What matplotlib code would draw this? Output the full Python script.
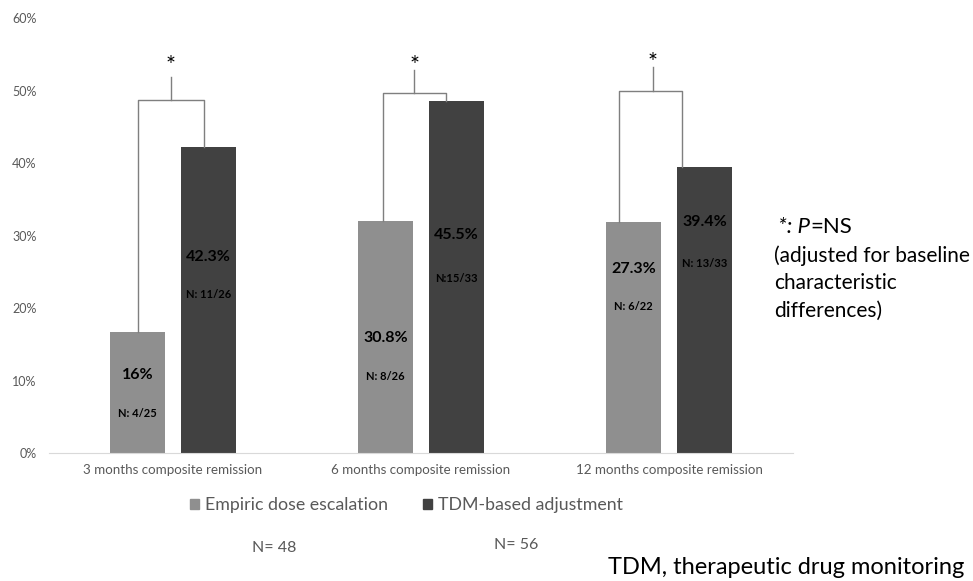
import numpy as np
import matplotlib.pyplot as plt
from matplotlib.patches import Patch

plt.rcParams['font.family'] = ['Lato', 'DejaVu Sans']

categories = ['3 months composite remission', '6 months composite remission',
              '12 months composite remission']
series_names = ['Empiric dose escalation', 'TDM-based adjustment']
# bar heights as drawn (%)
empiric = [16.7, 32.0, 31.8]
tdm = [42.2, 48.5, 39.4]
# printed labels
empiric_pct = ['16%', '30.8%', '27.3%']
tdm_pct = ['42.3%', '45.5%', '39.4%']
empiric_n = ['N: 4/25', 'N: 8/26', 'N: 6/22']
tdm_n = ['N: 11/26', 'N:15/33', 'N: 13/33']
group_n = ['N= 48', 'N= 56']

light = '#8f8f8f'
dark = '#414141'
grey_txt = '#595959'

fig = plt.figure(figsize=(9.73, 5.81), dpi=100)
ax = fig.add_axes([0.0504, 0.2203, 0.7646, 0.7487])

x = np.arange(len(categories))
w = 0.225
off = 0.143
ax.bar(x - off, empiric, w, color=light, label=series_names[0])
ax.bar(x + off, tdm, w, color=dark, label=series_names[1])

# label positions (y in %) for the text inside the bars
pct_y_e = [10.8, 15.9, 25.4]
n_y_e = [5.5, 10.6, 20.2]
pct_y_t = [27.0, 30.1, 31.9]
n_y_t = [21.8, 24.1, 26.2]
for i in range(len(categories)):
    ax.text(x[i] - off, pct_y_e[i], empiric_pct[i], ha='center', va='center',
            fontsize=11.5, fontweight='bold', color='black')
    ax.text(x[i] - off, n_y_e[i], empiric_n[i], ha='center', va='center',
            fontsize=8, fontweight='bold', color='black')
    ax.text(x[i] + off, pct_y_t[i], tdm_pct[i], ha='center', va='center',
            fontsize=11.5, fontweight='bold', color='black')
    ax.text(x[i] + off, n_y_t[i], tdm_n[i], ha='center', va='center',
            fontsize=8, fontweight='bold', color='black')

# hand drawn brackets: left leg x, right leg x, stem x, bar level, stem top, star y
brackets = [(-0.143, 0.125, -0.01, 48.7, 51.9, 53.4),
            (-0.154, 0.10, -0.028, 49.7, 52.8, 53.4),
            (-0.20, 0.053, -0.066, 50.0, 53.3, 53.9)]
for i, (xl, xr, xs, yb, ys, yst) in enumerate(brackets):
    c = x[i]
    ax.plot([c + xl, c + xl, c + xr, c + xr],
            [empiric[i], yb, yb, tdm[i]], color='#7f7f7f', lw=1)
    ax.plot([c + xs, c + xs], [yb, ys], color='#7f7f7f', lw=1)
    ax.text(c + xs, yst, '*', ha='center', va='center', fontsize=17, color='black')

ax.set_xlim(-0.5, 2.5)
ax.set_ylim(0, 60)
ax.set_yticks(np.arange(0, 61, 10))
ax.set_yticklabels([f'{v}%' for v in range(0, 61, 10)])
ax.set_xticks(x)
ax.set_xticklabels(categories)
ax.tick_params(axis='both', length=0, labelsize=9, labelcolor=grey_txt)
ax.tick_params(axis='x', labelsize=9.6, pad=8)
ax.tick_params(axis='y', pad=9)
for s in ['top', 'right', 'left']:
    ax.spines[s].set_visible(False)
ax.spines['bottom'].set_color('#d9d9d9')

handles = [Patch(color=light), Patch(color=dark)]
fig.legend(handles, series_names, loc='center', bbox_to_anchor=(0.418, 0.131),
           ncol=2, frameon=False, fontsize=12.8, labelcolor=grey_txt,
           handlelength=0.5, handleheight=0.5, handletextpad=0.34, columnspacing=2.0)

fig.text(0.2816, 0.0568, group_n[0], ha='center', va='center', fontsize=11.5, color=grey_txt)
fig.text(0.531, 0.062, group_n[1], ha='center', va='center', fontsize=11.5, color=grey_txt)

t = fig.text(0.80, 0.609, '*: P', ha='left', va='center', fontsize=16, style='italic')
ax.annotate('=NS', xy=(1, 0), xycoords=t, ha='left', va='bottom', fontsize=16)
fig.text(0.7955, 0.5129, '(adjusted for baseline\ncharacteristic\ndifferences)',
         ha='left', va='center', fontsize=15, linespacing=1.45)

fig.text(0.625, 0.012, 'TDM, therapeutic drug monitoring', ha='left', va='baseline',
         fontsize=17, color='black')

fig.savefig('out.png', dpi=100)
